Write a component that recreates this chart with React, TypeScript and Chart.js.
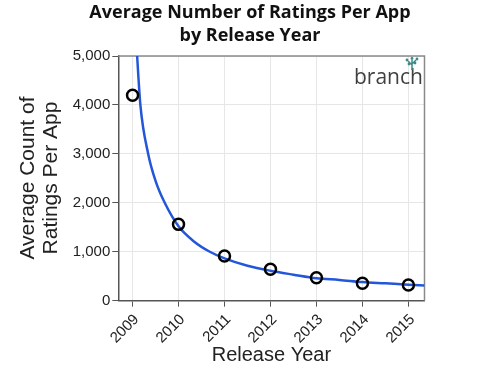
import React, { useEffect, useRef } from 'react';
import { Chart, registerables } from 'chart.js';

Chart.register(...registerables);

// ---- data ----
const years = [2009, 2010, 2011, 2012, 2013, 2014, 2015];
const avgRatings = [4200, 1560, 913, 641, 470, 355, 321];

// fitted trend line
const trendYears = [2009.03, 2009.1, 2009.17, 2009.34, 2009.5, 2009.7, 2010, 2010.35, 2010.68, 2011, 2011.5, 2012, 2012.5, 2013, 2013.5, 2014, 2014.5, 2015, 2015.35];
const trendValues = [6200, 5000, 4000, 3000, 2450, 2000, 1520, 1200, 1000, 866, 715, 612, 532, 458, 425, 382, 355, 327, 312];

const yTicks = [0, 1000, 2000, 3000, 4000, 5000];
const xMin = 2008.69;
const xMax = 2015.35;

const titleLines = ['Average Number of Ratings Per App', 'by Release Year'];
const yTitleLines = ['Average Count of', 'Ratings Per App'];
const xTitle = 'Release Year';
const logoText = 'branch';

const decor = {
  id: 'decor',
  beforeDraw(chart: any) {
    const { ctx, width, height } = chart;
    ctx.save();
    ctx.fillStyle = '#ffffff';
    ctx.fillRect(0, 0, width, height);
    ctx.restore();
  },
  beforeDatasetsDraw(chart: any) {
    const { ctx, chartArea: a } = chart;
    ctx.save();
    ctx.strokeStyle = '#8a8a8a';
    ctx.lineWidth = 1.5;
    ctx.beginPath();
    ctx.moveTo(a.left, a.top);
    ctx.lineTo(a.right, a.top);
    ctx.lineTo(a.right, a.bottom);
    ctx.stroke();
    ctx.restore();
  },
  afterDraw(chart: any) {
    const { ctx, chartArea: a } = chart;
    ctx.save();
    // title
    ctx.fillStyle = '#111';
    ctx.textAlign = 'center';
    ctx.textBaseline = 'middle';
    ctx.font = 'bold 18px "Open Sans"';
    ctx.fillText(titleLines[0], 250, 13);
    ctx.fillText(titleLines[1], 250, 36);

    // x title
    ctx.fillStyle = '#222';
    ctx.font = '20px "Liberation Sans"';
    ctx.fillText(xTitle, (a.left + a.right) / 2, 355);

    // y title
    ctx.save();
    ctx.translate(28, 178);
    ctx.rotate(-Math.PI / 2);
    ctx.font = '21px "Liberation Sans"';
    ctx.fillText(yTitleLines[0], 0, 0);
    ctx.fillText(yTitleLines[1], 0, 23);
    ctx.restore();

    // logo
    ctx.fillStyle = '#3f3f3f';
    ctx.textAlign = 'left';
    ctx.textBaseline = 'alphabetic';
    ctx.font = '21px "Open Sans"';
    ctx.fillText(logoText, 354, 84);
    // small tree mark
    ctx.strokeStyle = '#3b8a86';
    ctx.fillStyle = '#3b8a86';
    ctx.lineWidth = 1.5;
    ctx.beginPath();
    ctx.moveTo(412, 70);
    ctx.lineTo(412, 60);
    ctx.moveTo(412, 65);
    ctx.lineTo(408, 61);
    ctx.moveTo(412, 64);
    ctx.lineTo(416, 60);
    ctx.stroke();
    const dots = [[412, 58.5], [407, 60], [417, 59], [409, 64], [415, 63]];
    dots.forEach(([x, y]) => {
      ctx.beginPath();
      ctx.arc(x, y, 1.4, 0, Math.PI * 2);
      ctx.fill();
    });
    ctx.restore();
  },
};

export default function App() {
  const ref = useRef<HTMLCanvasElement | null>(null);
  useEffect(() => {
    if (!ref.current) return;
    const chart = new Chart(ref.current, {
      type: 'line',
      data: {
        datasets: [
          {
            label: 'Average ratings',
            data: years.map((y, i) => ({ x: y, y: avgRatings[i] })),
            showLine: false,
            pointRadius: 5.5,
            pointBorderWidth: 2.5,
            pointBorderColor: '#000000',
            pointBackgroundColor: 'rgba(255,255,255,0)',
            order: 0,
          },
          {
            label: 'Trend',
            data: trendYears.map((y, i) => ({ x: y, y: trendValues[i] })),
            borderColor: '#2356d9',
            borderWidth: 2.5,
            pointRadius: 0,
            cubicInterpolationMode: 'monotone',
            fill: false,
            order: 1,
          },
        ],
      },
      options: {
        responsive: false,
        animation: false,
        devicePixelRatio: 1,
        layout: { padding: { top: 56, left: 0, right: 75.5, bottom: 0 } },
        plugins: {
          legend: { display: false },
          tooltip: { enabled: false },
          title: { display: false },
        },
        scales: {
          x: {
            type: 'linear',
            min: xMin,
            max: xMax,
            afterFit: (s: any) => { s.height = 71.3; },
            ticks: {
              stepSize: 1,
              includeBounds: false,
              minRotation: 45,
              maxRotation: 45,
              padding: 4,
              labelOffset: 4,
              color: '#222',
              font: { family: '"Liberation Sans"', size: 15 },
              callback: (v: any) => String(v),
            },
            grid: { color: '#e6e6e6', tickColor: '#555', tickLength: 6, lineWidth: 1 },
            border: { color: '#555', width: 1.5 },
          },
          y: {
            type: 'linear',
            min: 0,
            max: 5000,
            afterFit: (s: any) => { s.width = 118.3; },
            afterBuildTicks: (s: any) => { s.ticks = yTicks.map((v) => ({ value: v })); },
            ticks: {
              padding: 2,
              color: '#222',
              font: { family: '"Liberation Sans"', size: 15 },
              callback: (v: any) => Number(v).toLocaleString('en-US'),
            },
            grid: { color: '#e6e6e6', tickColor: '#555', tickLength: 6, lineWidth: 1 },
            border: { color: '#555', width: 1.5 },
          },
        },
      },
      plugins: [decor],
    });
    return () => chart.destroy();
  }, []);
  return (
    <div style={{ position: 'absolute', left: 0, top: 0, width: 500, height: 372 }}>
      <canvas ref={ref} width={500} height={372} />
    </div>
  );
}
